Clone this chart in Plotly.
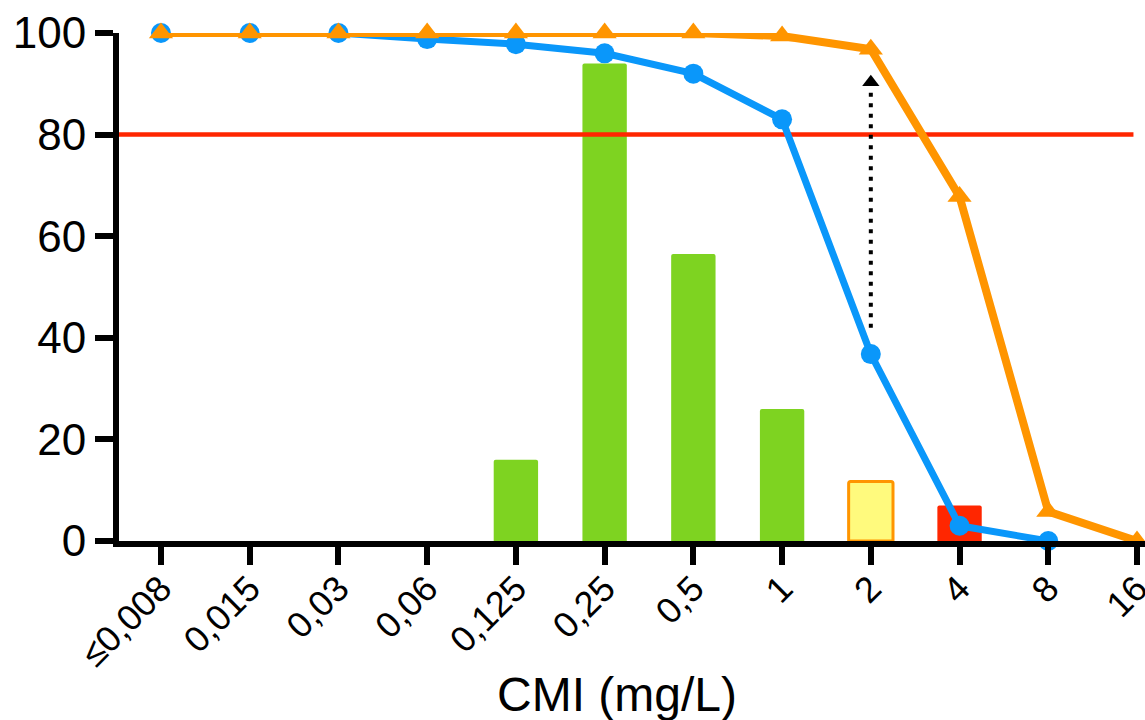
import plotly.graph_objects as go

# MIC categories (mg/L)
categories = ["≤0,008", "0,015", "0,03", "0,06", "0,125", "0,25",
              "0,5", "1", "2", "4", "8", "16"]

# Distribution of isolates per MIC (bars)
bar_values = [0, 0, 0, 0, 16, 94, 56.5, 26, 11.7, 7, 0, 0]
bar_colors = ["#7ED321"] * 8 + ["#FFFA7D", "#FF2600", "#7ED321", "#7ED321"]
bar_line_colors = ["#7ED321"] * 8 + ["#FF9500", "#FF2600", "#7ED321", "#7ED321"]
bar_line_widths = [0] * 8 + [3, 0, 0, 0]

# Cumulative susceptibility curves
blue_values = [100, 100, 100, 98.8, 97.8, 96, 92, 83, 36.8, 3, 0, None]
orange_values = [100, 100, 100, 100, 100, 100, 100, 99.4, 96.8, 67.8, 5.8, 0]

# Reference threshold and shift arrow at MIC = 2
threshold = 80
arrow_category = "2"
arrow_from, arrow_to = 42, 89.5

xidx = list(range(len(categories)))
cat_pos = {c: i for i, c in enumerate(categories)}

fig = go.Figure()

fig.add_trace(go.Bar(
    x=xidx, y=bar_values, width=0.5,
    marker=dict(color=bar_colors,
                line=dict(color=bar_line_colors, width=bar_line_widths),
                cornerradius=2),
    cliponaxis=False, showlegend=False,
))

# Threshold line across the plot
fig.add_trace(go.Scatter(
    x=[-0.473, 10.96], y=[threshold, threshold], mode="lines",
    line=dict(color="#FF2600", width=4.5), showlegend=False, cliponaxis=False,
))

fig.add_trace(go.Scatter(
    x=xidx, y=blue_values, mode="lines+markers",
    line=dict(color="#0A97FA", width=7),
    marker=dict(symbol="circle", size=20, color="#0A97FA"),
    cliponaxis=False, showlegend=False,
))

fig.add_trace(go.Scatter(
    x=xidx, y=orange_values, mode="lines+markers",
    line=dict(color="#FF9500", width=8),
    marker=dict(symbol="triangle-up", size=21, color="#FF9500"),
    cliponaxis=False, showlegend=False,
))

# Dotted arrow showing the shift
ax = cat_pos[arrow_category]
fig.add_trace(go.Scatter(
    x=[ax, ax], y=[arrow_from, arrow_to], mode="lines",
    line=dict(color="black", width=4, dash="4px,6.5px"),
    showlegend=False, cliponaxis=False,
))
fig.add_trace(go.Scatter(
    x=[ax], y=[arrow_to + 0.8], mode="markers",
    marker=dict(symbol="triangle-up", size=15, color="black"),
    showlegend=False, cliponaxis=False,
))

font_family = "Liberation Sans, Arial, sans-serif"

fig.update_layout(
    width=1145, height=720,
    margin=dict(l=119, r=0, t=33, b=179),
    plot_bgcolor="white", paper_bgcolor="white",
    font=dict(family=font_family, color="black"),
    xaxis=dict(
        range=[-0.473, 11.09], automargin=False,
        tickmode="array", tickvals=xidx, ticktext=categories,
        tickangle=-45, tickfont=dict(size=36),
        ticklabeloverflow="allow", ticklabelstandoff=-12,
        showline=True, linecolor="black", linewidth=6,
        ticks="outside", ticklen=18, tickwidth=6, tickcolor="black",
        showgrid=False, zeroline=False,
    ),
    yaxis=dict(
        range=[0, 100], automargin=False,
        tickvals=[0, 20, 40, 60, 80, 100],
        tickfont=dict(size=44),
        showline=True, linecolor="black", linewidth=6,
        ticks="outside", ticklen=18, tickwidth=6, tickcolor="black",
        showgrid=False, zeroline=False,
    ),
    annotations=[dict(
        text="CMI (mg/L)", xref="paper", yref="paper",
        x=0.485, y=-0.303, xanchor="center", yanchor="middle",
        showarrow=False, font=dict(size=48, family=font_family),
    )],
)

fig.write_html("out.html")
